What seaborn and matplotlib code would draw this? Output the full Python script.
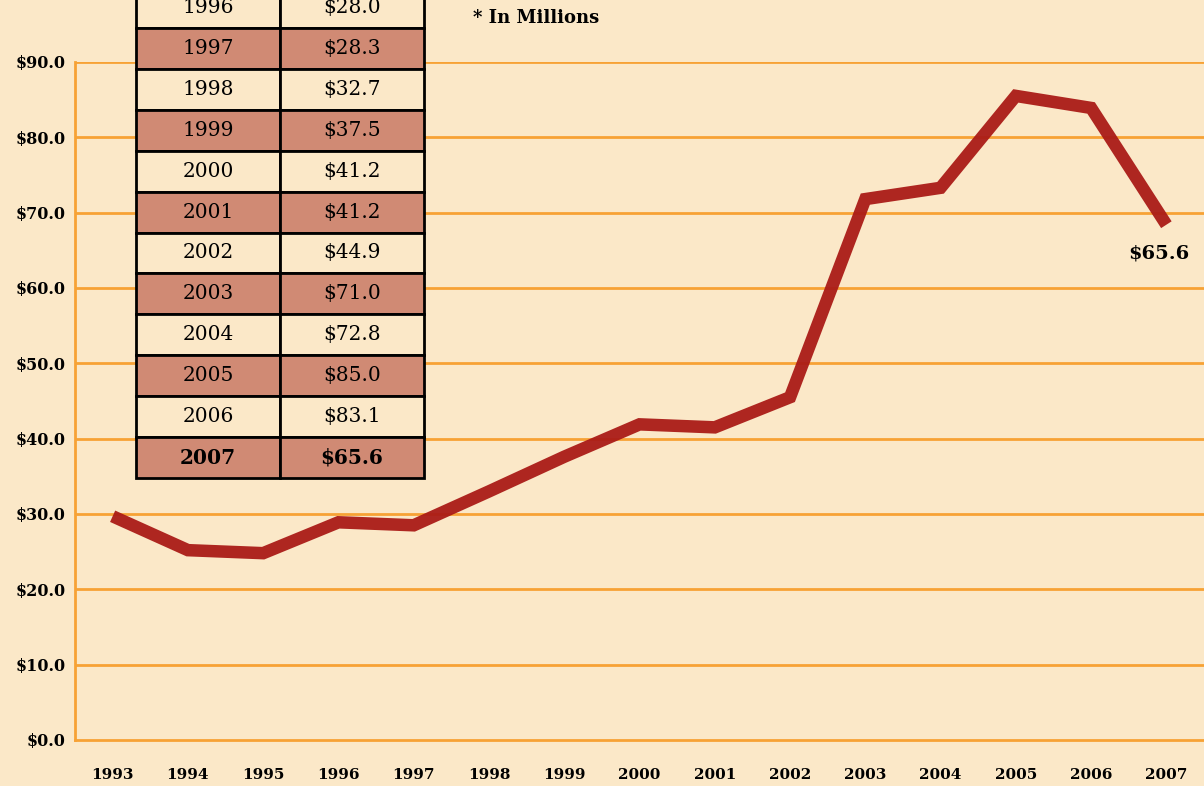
import numpy as np
import pandas as pd
import seaborn as sns
import matplotlib.pyplot as plt

# valeurs
years = [1993, 1994, 1995, 1996, 1997, 1998, 1999, 2000, 2001, 2002, 2003, 2004, 2005, 2006, 2007]
values = [29.7, 25.2, 24.8, 28.9, 28.5, 33.0, 37.6, 41.9, 41.5, 45.5, 71.8, 73.3, 85.5, 83.9, 68.4]

# tableau en haut a gauche
table_years = ["1996", "1997", "1998", "1999", "2000", "2001", "2002", "2003", "2004", "2005", "2006", "2007"]
table_vals = ["$28.0", "$28.3", "$32.7", "$37.5", "$41.2", "$41.2", "$44.9", "$71.0", "$72.8", "$85.0", "$83.1", "$65.6"]

bg = "#FBE8C8"
orange = "#F7A235"
red = "#AA1B17"
salmon = "#D08A74"

sns.set_theme(style="white")
plt.rcParams["font.family"] = ["DejaVu Serif"]
plt.rcParams["text.color"] = "black"

df = pd.DataFrame({"year": years, "value": values})

fig = plt.figure(figsize=(12.04, 7.86), dpi=100, facecolor=bg)
ax = fig.add_axes([75/1204, 46/786, 1129/1204, 678/786])
ax.set_facecolor(bg)

for v in range(10, 100, 10):
    ax.axhline(v, color=orange, lw=2, zorder=1)

sns.lineplot(data=df, x="year", y="value", color=red, lw=9, alpha=0.95, ax=ax, zorder=3,
             solid_capstyle="butt", solid_joinstyle="miter")

ax.set_xlim(1992.5, 2007.5)
ax.set_ylim(0, 90)
ax.set_xticks(years)
ax.set_xticklabels([str(y) for y in years], fontsize=11, fontweight="bold")
ax.set_yticks(range(0, 100, 10))
ax.set_yticklabels(["$%.1f" % v for v in range(0, 100, 10)], fontsize=11.5, fontweight="bold")
ax.tick_params(axis="both", length=0, colors="black")
ax.tick_params(axis="x", pad=20)
ax.tick_params(axis="y", pad=7)
ax.set_xlabel("")
ax.set_ylabel("")
for s in ["top", "right"]:
    ax.spines[s].set_visible(False)
for s in ["left", "bottom"]:
    ax.spines[s].set_color(orange)
    ax.spines[s].set_linewidth(2)

ax.text(2006.9, 64.6, "$65.6", ha="center", va="center", fontsize=14, fontweight="bold", color="black")
fig.text(473/1204, 1 - 18/786, "* In Millions", ha="left", va="center", fontsize=13, fontweight="bold", color="black")

# tableau
tax = fig.add_axes([136/1204, 308/786, 288/1204, 491/786])
tax.axis("off")
cells = [[y, v] for y, v in zip(table_years, table_vals)]
tbl = tax.table(cellText=cells, bbox=[0, 0, 1, 1], cellLoc="center")
tbl.auto_set_font_size(False)
for (r, c), cell in tbl.get_celld().items():
    cell.set_facecolor(salmon if r % 2 == 1 else bg)
    cell.set_edgecolor("black")
    cell.set_linewidth(2)
    cell.get_text().set_fontsize(14.5)
    cell.get_text().set_color("black")
    if r == len(cells) - 1:
        cell.get_text().set_fontweight("bold")

fig.savefig("out.png", dpi=100, facecolor=bg)
